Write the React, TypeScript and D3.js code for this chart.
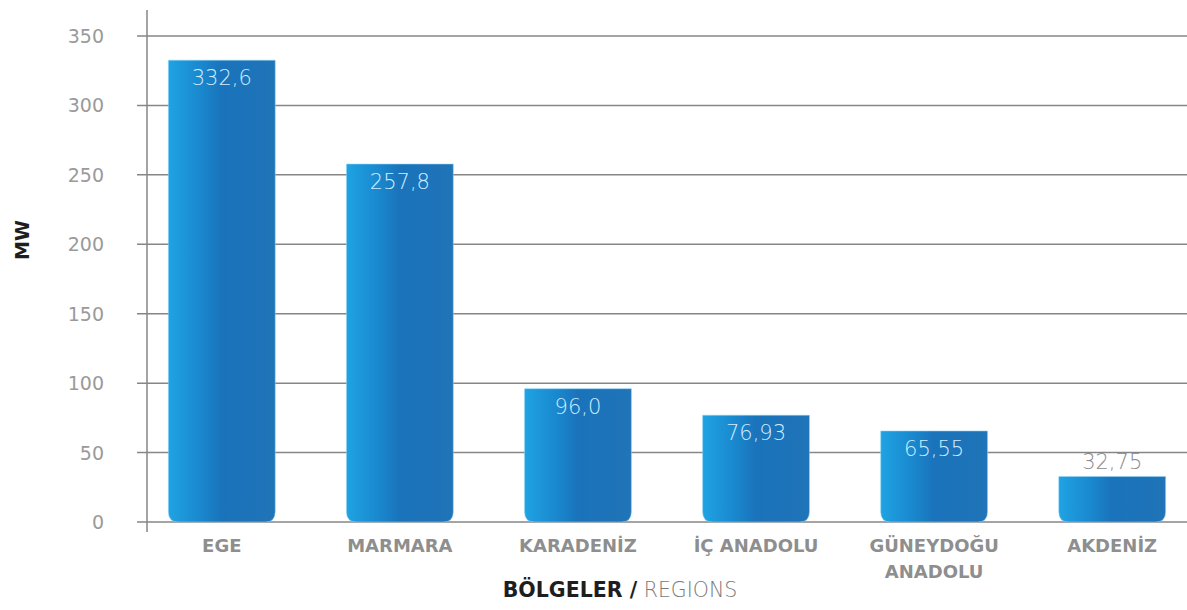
import React from "react";
import * as d3 from "d3";

const categories: string[][] = [
  ["EGE"],
  ["MARMARA"],
  ["KARADENİZ"],
  ["İÇ ANADOLU"],
  ["GÜNEYDOĞU", "ANADOLU"],
  ["AKDENİZ"],
];
const values: number[] = [332.6, 257.8, 96.0, 76.93, 65.55, 32.75];
const valueLabels: string[] = ["332,6", "257,8", "96,0", "76,93", "65,55", "32,75"];
const yTicks: number[] = [0, 50, 100, 150, 200, 250, 300, 350];

const W = 1187;
const H = 610;
const axisX = 147;
const baseY = 522;
const topY = 36;

export default function App() {
  const x = d3
    .scaleBand<number>()
    .domain(values.map((_, i) => i))
    .range([axisX, W])
    .paddingInner(0.4)
    .paddingOuter(0.12);
  const y = d3.scaleLinear().domain([0, 350]).range([baseY, topY]);
  const bw = x.bandwidth();
  const r = 10;

  const barPath = (x0: number, y0: number, w: number, y1: number) => {
    const p = d3.path();
    p.moveTo(x0, y0);
    p.lineTo(x0 + w, y0);
    p.lineTo(x0 + w, y1 - r);
    p.quadraticCurveTo(x0 + w, y1, x0 + w - r, y1);
    p.lineTo(x0 + r, y1);
    p.quadraticCurveTo(x0, y1, x0, y1 - r);
    p.closePath();
    return p.toString();
  };

  return (
    <svg
      width={W}
      height={H}
      style={{ position: "absolute", left: 0, top: 0, background: "#fff" }}
      fontFamily="'DejaVu Sans', sans-serif"
    >
      <defs>
        <linearGradient id="barGrad" x1="0" x2="1" y1="0" y2="0">
          <stop offset="0" stopColor="#1fa3e3" />
          <stop offset="0.3" stopColor="#1a88ce" />
          <stop offset="0.5" stopColor="#1a73bb" />
          <stop offset="1" stopColor="#2074b7" />
        </linearGradient>
      </defs>

      {yTicks.map((t) => (
        <g key={t}>
          <line
            x1={137}
            x2={W}
            y1={y(t)}
            y2={y(t)}
            stroke="#868686"
            strokeWidth={1.5}
          />
          <text
            x={104}
            y={y(t) + 7}
            textAnchor="end"
            fontSize={19}
            fill="#9a9a9a"
          >
            {t}
          </text>
        </g>
      ))}

      <line x1={axisX} x2={axisX} y1={10} y2={532} stroke="#868686" strokeWidth={1.5} />

      {values.map((v, i) => {
        const x0 = x(i)!;
        const yt = y(v);
        const inside = baseY - yt > 50;
        return (
          <g key={i}>
            <path
              d={barPath(x0, yt, bw, baseY)}
              fill="url(#barGrad)"
              stroke="#8fd6f7"
              strokeOpacity={0.55}
              strokeWidth={1}
            />
            <text
              x={x0 + bw / 2}
              y={inside ? yt + 25 : yt - 8}
              textAnchor="middle"
              fontSize={21}
              fontWeight={200}
              fill={inside ? "#cdeeff" : "#8a8a8a"}
            >
              {valueLabels[i]}
            </text>
          </g>
        );
      })}

      {categories.map((lines, i) => (
        <text
          key={i}
          x={x(i)! + bw / 2}
          y={552}
          textAnchor="middle"
          fontSize={18}
          fontWeight="bold"
          fill="#8e8e8e"
        >
          {lines.map((l, j) => (
            <tspan key={j} x={x(i)! + bw / 2} dy={j === 0 ? 0 : 26}>
              {l}
            </tspan>
          ))}
        </text>
      ))}

      <text x={620} y={597} textAnchor="middle" fontSize={20.5}>
        <tspan fontWeight="bold" fill="#1e1e1e">
          BÖLGELER /
        </tspan>
        <tspan fill="#7a7a7a" fontWeight={200}>
          {" "}REGIONS
        </tspan>
      </text>

      <text
        transform="translate(29,240) rotate(-90)"
        textAnchor="middle"
        fontSize={19}
        fontWeight="bold"
        fill="#1e1e1e"
      >
        MW
      </text>
    </svg>
  );
}
